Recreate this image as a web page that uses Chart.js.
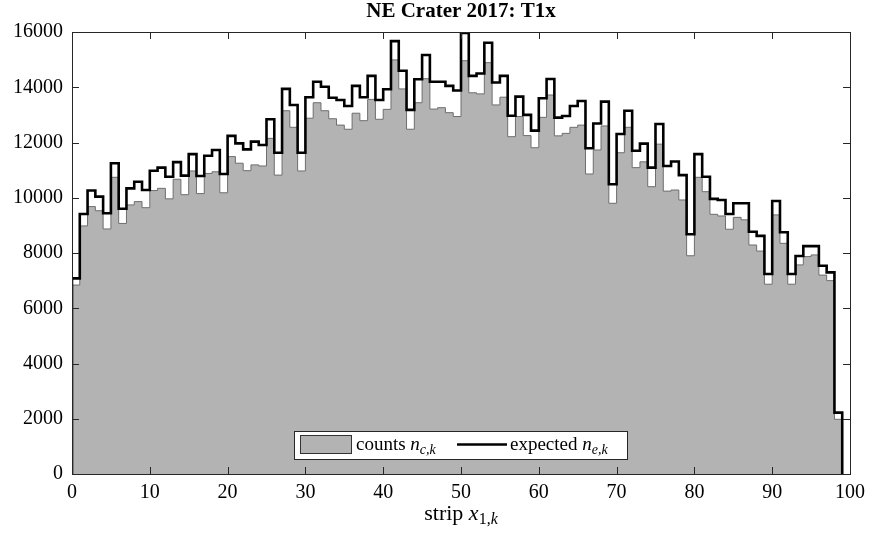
<!DOCTYPE html>
<html>
<head>
<meta charset="utf-8">
<script src="https://cdn.jsdelivr.net/npm/chart.js@4"></script>
<style>
  html, body { margin: 0; padding: 0; background: #fff; }
  canvas { display: block; }
</style>
</head>
<body>
<canvas id="myChart" width="872" height="535"></canvas>
<script>
// strips (left edge of each bin, bins are 1 wide)
const strips = [0,1,2,3,4,5,6,7,8,9,10,11,12,13,14,15,16,17,18,19,
  20,21,22,23,24,25,26,27,28,29,30,31,32,33,34,35,36,37,38,39,
  40,41,42,43,44,45,46,47,48,49,50,51,52,53,54,55,56,57,58,59,
  60,61,62,63,64,65,66,67,68,69,70,71,72,73,74,75,76,77,78,79,
  80,81,82,83,84,85,86,87,88,89,90,91,92,93,94,95,96,97,98];

// counts n_c,k (grey)
const counts = [6840,8980,9680,9530,8870,10740,9070,9740,9860,9640,
  10260,10340,9960,10670,10110,10970,10150,10880,10940,10180,
  11490,11250,10980,11190,11150,12150,10820,13150,12550,10970,
  12880,13440,13150,12860,12630,12480,13060,12790,13560,12840,
  13200,14990,13940,12480,13440,14310,13210,13260,13080,12940,
  14960,13800,13760,14890,13360,13640,12210,12940,12250,11810,
  12910,13720,12240,12330,12550,12630,10860,11730,12600,9800,
  11630,12550,11090,11300,10400,11940,10240,10280,9920,7900,
  10740,10220,9400,9340,8860,9290,9200,8290,8070,6870,
  9380,8350,6870,7570,7870,7930,7200,7000,1980];

// expected n_e,k (black)
const expected = [7080,9410,10260,10040,9440,11250,9600,10340,10580,10280,
  10980,11090,10760,11290,10800,11580,10790,11520,11730,10860,
  12240,11970,11750,12030,11910,12840,11630,13940,13360,11630,
  13640,14200,14020,13620,13540,13320,14050,13640,14410,13540,
  13930,15670,14600,13180,14290,15170,14200,14200,14050,13880,
  15970,14410,14500,15610,14170,14410,12970,13660,13000,12430,
  13600,14300,12900,12960,13320,13500,11790,12690,13480,10490,
  12310,13150,11700,11960,11090,12670,11150,11310,10820,8680,
  11580,10760,9960,9920,9410,9800,9800,8770,8620,7240,
  9880,8750,7240,7890,8250,8250,7540,7300,2220];

const xTicks = [0,10,20,30,40,50,60,70,80,90,100];
const yTicks = [0,2000,4000,6000,8000,10000,12000,14000,16000];

const serif = '"Liberation Serif", "Times New Roman", serif';

// turn bin values into a closed staircase
function stairs(vals) {
  const last = strips.length - 1;
  const pts = [{x: strips[0], y: 0}];
  strips.forEach((s, i) => pts.push({x: s, y: vals[i]}));
  pts.push({x: strips[last] + 1, y: vals[last]});
  pts.push({x: strips[last] + 1, y: 0});
  return pts;
}

// draws text pieces one after another (for subscripts / italics)
function drawRuns(c, runs, x, y, align) {
  let w = 0;
  runs.forEach(r => { c.font = r.font; w += c.measureText(r.text).width; });
  let cx = align === 'center' ? x - w / 2 : x;
  runs.forEach(r => {
    c.font = r.font;
    c.fillText(r.text, cx, y + (r.dy || 0));
    cx += c.measureText(r.text).width;
  });
  return w;
}

const decor = {
  id: 'decor',
  afterDatasetsDraw(chart) {
    const c = chart.ctx;
    const a = chart.chartArea;
    const xs = chart.scales.x, ys = chart.scales.y;
    c.save();

    // ticks pointing inwards, on all four sides
    c.strokeStyle = '#262626';
    c.lineWidth = 1;
    c.beginPath();
    xTicks.forEach(v => {
      const px = Math.round(xs.getPixelForValue(v)) + 0.5;
      c.moveTo(px, a.bottom); c.lineTo(px, a.bottom - 7);
      c.moveTo(px, a.top); c.lineTo(px, a.top + 7);
    });
    yTicks.forEach(v => {
      const py = Math.round(ys.getPixelForValue(v)) + 0.5;
      c.moveTo(a.left, py); c.lineTo(a.left + 7, py);
      c.moveTo(a.right, py); c.lineTo(a.right - 7, py);
    });
    c.stroke();

    // box
    c.strokeRect(Math.round(a.left) + 0.5, Math.round(a.top) + 0.5,
      Math.round(a.right - a.left), Math.round(a.bottom - a.top));

    // legend
    const mid = (a.left + a.right) / 2;
    const bx = Math.round(mid - 167), by = 431, bw = 333, bh = 28;
    c.fillStyle = '#fff';
    c.fillRect(bx, by, bw, bh);
    c.strokeStyle = '#262626';
    c.strokeRect(bx + 0.5, by + 0.5, bw, bh);

    c.fillStyle = '#b3b3b3';
    c.fillRect(bx + 6, by + 4, 51, 18);
    c.strokeStyle = '#333';
    c.strokeRect(bx + 6.5, by + 4.5, 51, 18);

    c.fillStyle = '#000';
    c.textBaseline = 'alphabetic';
    c.textAlign = 'left';
    drawRuns(c, [
      {text: 'counts ', font: '19px ' + serif},
      {text: 'n', font: 'italic 19px ' + serif},
      {text: 'c,k', font: 'italic 14px ' + serif, dy: 4}
    ], bx + 62, by + 19);

    c.strokeStyle = '#000';
    c.lineWidth = 2.5;
    c.beginPath();
    c.moveTo(bx + 163, by + 13.5);
    c.lineTo(bx + 213, by + 13.5);
    c.stroke();

    drawRuns(c, [
      {text: 'expected ', font: '19px ' + serif},
      {text: 'n', font: 'italic 19px ' + serif},
      {text: 'e,k', font: 'italic 14px ' + serif, dy: 4}
    ], bx + 216, by + 19);

    // title
    c.font = 'bold 21px ' + serif;
    c.textAlign = 'center';
    c.fillText('NE Crater 2017: T1x', mid, 17);

    // x axis label
    c.textAlign = 'left';
    drawRuns(c, [
      {text: 'strip ', font: '22px ' + serif},
      {text: 'x', font: 'italic 22px ' + serif},
      {text: '1,', font: '16px ' + serif, dy: 4},
      {text: 'k', font: 'italic 16px ' + serif, dy: 4}
    ], mid, 520, 'center');

    c.restore();
  }
};

const ctx = document.getElementById('myChart');

new Chart(ctx, {
  type: 'line',
  data: {
    datasets: [
      {
        label: 'expected',
        data: stairs(expected),
        stepped: 'before',
        borderColor: '#000',
        borderWidth: 2.6,
        borderJoinStyle: 'miter',
        pointRadius: 0,
        fill: false
      },
      {
        label: 'counts',
        data: stairs(counts),
        stepped: 'before',
        borderColor: '#6e6e6e',
        borderWidth: 1,
        backgroundColor: '#b3b3b3',
        pointRadius: 0,
        fill: 'origin'
      }
    ]
  },
  options: {
    responsive: false,
    animation: false,
    devicePixelRatio: 1,
    layout: { padding: { top: 32, right: 19, left: 0, bottom: 0 } },
    plugins: {
      legend: { display: false },
      tooltip: { enabled: false },
      title: { display: false }
    },
    scales: {
      x: {
        type: 'linear',
        min: 0,
        max: 100,
        grid: { display: false, drawTicks: false },
        border: { display: false },
        afterBuildTicks: s => { s.ticks = xTicks.map(v => ({value: v})); },
        afterFit: s => { s.height = 61; },
        ticks: {
          autoSkip: false,
          maxRotation: 0,
          padding: 7,
          color: '#000',
          font: { family: serif, size: 20 },
          callback: v => String(v)
        }
      },
      y: {
        min: 0,
        max: 16000,
        grid: { display: false, drawTicks: false },
        border: { display: false },
        afterBuildTicks: s => { s.ticks = yTicks.map(v => ({value: v})); },
        afterFit: s => { s.width = 72; },
        ticks: {
          padding: 9,
          color: '#000',
          font: { family: serif, size: 20 },
          callback: v => String(v)
        }
      }
    }
  },
  plugins: [decor]
});
</script>
</body>
</html>
